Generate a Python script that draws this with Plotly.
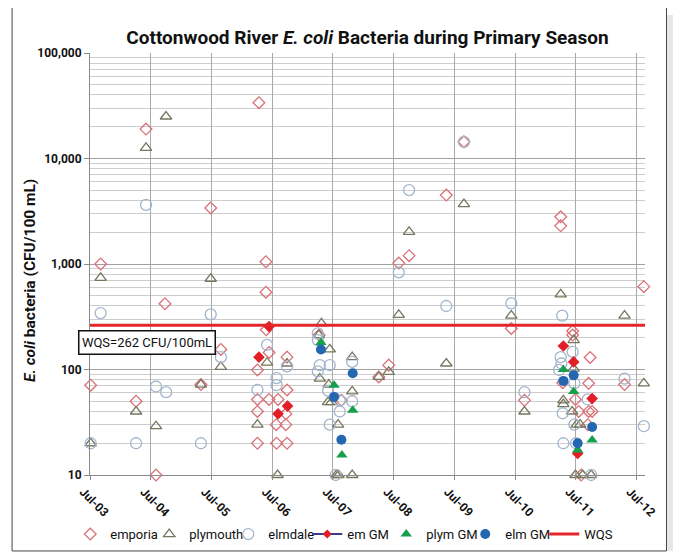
import plotly.graph_objects as go

# ---------------- data ----------------
emporia_dates = ["2003-07-05", "2003-09-03", "2004-04-03", "2004-06-02", "2004-08-01", "2004-09-24",
                 "2005-04-28", "2005-06-26", "2005-08-26",
                 "2006-04-03", "2006-04-03", "2006-04-03", "2006-04-03", "2006-04-12",
                 "2006-05-24", "2006-05-24", "2006-05-26", "2006-06-12", "2006-06-12",
                 "2006-08-05", "2006-07-25", "2006-07-27", "2006-09-21", "2006-09-28", "2006-09-28",
                 "2006-09-21", "2006-09-28",
                 "2007-04-09", "2007-08-21",
                 "2008-04-02", "2008-06-01", "2008-07-31", "2008-10-01",
                 "2009-05-13", "2009-08-27",
                 "2010-06-08", "2010-08-26",
                 "2011-04-01", "2011-04-01", "2011-06-12", "2011-06-12", "2011-09-25", "2011-04-13",
                 "2011-09-16", "2011-06-29", "2011-07-18", "2011-09-16", "2011-10-07", "2011-09-11",
                 "2011-08-02",
                 "2012-04-19", "2012-08-13"]
emporia_vals = [71, 1000, 50, 19000, 10, 420,
                72, 3400, 155,
                99, 52, 40, 20, 33800,
                1050, 540, 238, 145, 52,
                52, 30, 20, 38, 131, 64,
                30, 20,
                212, 51,
                85, 110, 1020, 1200,
                4500, 14400,
                245, 51,
                2800, 2300, 232, 212, 130, 75,
                74, 52, 40, 40, 40, 30,
                10,
                72, 610]

plymouth_dates = ["2003-07-05", "2003-09-03", "2004-04-03", "2004-06-02", "2004-08-01", "2004-09-30",
                  "2005-04-28", "2005-06-26", "2005-08-26",
                  "2006-04-03", "2006-05-31", "2006-08-02", "2006-09-28",
                  "2007-04-23", "2007-04-07", "2007-06-12", "2007-04-13", "2007-06-06", "2007-06-02",
                  "2007-06-22", "2007-08-01", "2007-07-22", "2007-08-04", "2007-10-25", "2007-10-25",
                  "2007-10-25",
                  "2008-04-02", "2008-06-01", "2008-07-31", "2008-10-01",
                  "2009-05-13", "2009-08-27",
                  "2010-06-08", "2010-08-26",
                  "2011-04-01", "2011-06-18", "2011-06-18", "2011-04-17", "2011-04-17", "2011-06-09",
                  "2011-07-06", "2011-07-27", "2011-06-29", "2011-08-11", "2011-10-01",
                  "2012-04-19", "2012-08-13"]
plymouth_vals = [20, 740, 40, 12600, 29, 25000,
                 72, 725, 106,
                 30, 116, 10, 114,
                 274, 212, 155, 82, 72, 49,
                 49, 30, 10, 10, 10, 131,
                 62,
                 85, 95, 329, 2020,
                 114, 3700,
                 324, 40,
                 516, 190, 102, 51, 47, 40,
                 30, 30, 10, 10, 10,
                 324, 74]

elmdale_dates = ["2003-07-05", "2003-09-03", "2004-04-03", "2004-06-02", "2004-08-01", "2004-10-01",
                 "2005-04-28", "2005-06-26", "2005-08-26",
                 "2006-04-03", "2006-05-31", "2006-07-27", "2006-07-27", "2006-09-28",
                 "2007-04-01", "2007-04-01", "2007-04-13", "2007-06-12", "2007-04-01", "2007-06-02",
                 "2007-08-11", "2007-08-11", "2007-06-12", "2007-07-18", "2007-10-25", "2007-10-25",
                 "2008-07-31", "2008-10-01",
                 "2009-05-13", "2009-08-27",
                 "2010-06-08", "2010-08-26",
                 "2011-04-10", "2011-04-01", "2011-06-12", "2011-04-05", "2011-03-22", "2011-06-22",
                 "2011-09-11", "2011-04-13", "2011-06-22", "2011-04-17", "2011-07-02", "2011-10-01",
                 "2012-04-19", "2012-08-13"]
elmdale_vals = [20, 343, 20, 3640, 69, 61,
                20, 333, 131,
                64, 171, 83, 71, 107,
                220, 190, 110, 110, 96, 63,
                51, 40, 30, 10, 118, 50,
                834, 5020,
                400, 14400,
                424, 61,
                324, 131, 147, 114, 99, 74,
                52, 38.5, 30, 20, 20, 10,
                82, 29]

em_gm_dates = ["2006-04-12", "2006-06-12", "2006-08-05", "2006-10-01",
               "2011-04-17", "2011-06-18", "2011-10-07", "2011-07-12"]
em_gm_vals = [131, 255, 38, 45, 167, 118, 53, 16]

plym_gm_dates = ["2007-04-20", "2007-07-08", "2007-08-24", "2007-10-28",
                 "2011-04-17", "2011-06-18", "2011-10-07", "2011-07-12"]
plym_gm_vals = [180, 71, 15.5, 41, 100, 62, 21.5, 17.3]

elm_gm_dates = ["2007-04-20", "2007-07-08", "2007-08-21", "2007-10-28",
                "2011-04-17", "2011-06-18", "2011-10-07", "2011-07-12"]
elm_gm_vals = [155, 55, 21.6, 92, 78, 88, 28.5, 20]

WQS = 262
x_range = ["2003-07-01", "2012-08-20"]
y_tick_vals = [10, 100, 1000, 10000, 100000]
y_tick_text = ["10", "100", "1,000", "10,000", "100,000"]

# ---------------- styles ----------------
FONT = "Roboto, Arial, sans-serif"
C_EMP = "#d97177"
C_PLY = "#77775f"
C_ELM = "#a3b6cd"
C_EMGM = "#e21f26"
C_EMGM_LINE = "#3b3b8f"
C_PLYGM = "#16a04c"
C_ELMGM = "#2467b1"
C_WQS = "#e3262b"

fig = go.Figure()

fig.add_trace(go.Scatter(x=emporia_dates, y=emporia_vals, mode="markers", name="emporia",
                         marker=dict(symbol="diamond-open", size=9, color=C_EMP, line=dict(width=1.3)),
                         cliponaxis=False))
fig.add_trace(go.Scatter(x=plymouth_dates, y=plymouth_vals, mode="markers", name="plymouth",
                         marker=dict(symbol="triangle-up-open", size=10, color=C_PLY, line=dict(width=1.3)),
                         cliponaxis=False))
fig.add_trace(go.Scatter(x=elmdale_dates, y=elmdale_vals, mode="markers", name="elmdale",
                         marker=dict(symbol="circle-open", size=11, color=C_ELM, line=dict(width=1.3)),
                         cliponaxis=False))
# em GM: markers on plot; a data-less twin supplies the line+marker legend entry
fig.add_trace(go.Scatter(x=em_gm_dates, y=em_gm_vals, mode="markers", name="em GM", showlegend=False,
                         marker=dict(symbol="diamond", size=9, color=C_EMGM), cliponaxis=False))
fig.add_trace(go.Scatter(x=[None], y=[None], mode="lines+markers", name="em GM",
                         line=dict(color=C_EMGM_LINE, width=2),
                         marker=dict(symbol="diamond", size=7, color=C_EMGM)))
fig.add_trace(go.Scatter(x=plym_gm_dates, y=plym_gm_vals, mode="markers", name="plym GM",
                         marker=dict(symbol="triangle-up", size=10, color=C_PLYGM), cliponaxis=False))
fig.add_trace(go.Scatter(x=elm_gm_dates, y=elm_gm_vals, mode="markers", name="elm GM",
                         marker=dict(symbol="circle", size=10, color=C_ELMGM), cliponaxis=False))
fig.add_trace(go.Scatter(x=x_range, y=[WQS, WQS], mode="lines", name="WQS",
                         line=dict(color=C_WQS, width=3)))

fig.add_annotation(x=0.1026, y=0.315, xref="paper", yref="paper", xanchor="center", yanchor="middle",
                   text=f"WQS={WQS} CFU/100mL", showarrow=False,
                   font=dict(family=FONT, size=13, color="#111"),
                   bgcolor="white", bordercolor="#111", borderwidth=1.5,
                   width=133, height=20)

fig.add_annotation(x=-0.108, y=0.46, xref="paper", yref="paper", xanchor="center", yanchor="middle",
                   text="<b><i>E. coli</i> bacteria (CFU/100 mL)</b>", showarrow=False, textangle=-90,
                   font=dict(family=FONT, size=15.5, color="#111"))

# outer frame and its soft shadow
fig.add_shape(type="rect", xref="paper", yref="paper", x0=1.0387, x1=1.056, y0=-0.18, y1=1.09,
              line=dict(width=0), fillcolor="#e6e6e6", layer="below")
fig.add_shape(type="rect", xref="paper", yref="paper", x0=-0.1404, x1=1.0387, y0=-0.18, y1=1.109,
              line=dict(color="#444", width=1), fillcolor="white", layer="below")

fig.update_layout(
    width=673, height=548,
    margin=dict(l=82, r=35.5, t=45, b=81, autoexpand=False),
    paper_bgcolor="white", plot_bgcolor="rgba(0,0,0,0)",
    font=dict(family=FONT, color="#111"),
    title=dict(text="<b>Cottonwood River <i>E. coli</i> Bacteria during Primary Season</b>",
               x=0.5, xref="paper", xanchor="center", y=0.947, yanchor="middle",
               font=dict(family=FONT, size=19, color="#111")),
    showlegend=True,
    legend=dict(orientation="h", x=-0.0356, xanchor="left", y=-0.14, yanchor="middle",
                font=dict(family=FONT, size=13, color="#111"), itemwidth=30,
                entrywidth=34, entrywidthmode="pixels",
                bgcolor="rgba(0,0,0,0)"),
    xaxis=dict(type="date", range=x_range, tick0="2003-07-01", dtick="M12", tickformat="%b-%y",
               tickangle=45, ticklabelshift=-7,
               tickfont=dict(family=FONT, size=12, color="#111", weight="bold"),
               showgrid=True, gridcolor="#a9a9a9", gridwidth=1,
               showline=True, linecolor="#8a8a8a", linewidth=1,
               ticks="outside", ticklen=4, tickcolor="#8a8a8a", zeroline=False),
    yaxis=dict(type="log", range=[1, 5], tickvals=y_tick_vals, ticktext=y_tick_text,
               tickfont=dict(family=FONT, size=12, color="#111", weight="bold"),
               showgrid=True, gridcolor="#a0a0a0", gridwidth=1,
               minor=dict(showgrid=True, gridcolor="#cdcdcd", gridwidth=1, dtick="D1"),
               showline=True, linecolor="#8a8a8a", linewidth=1,
               ticks="outside", ticklen=5, tickcolor="#8a8a8a", zeroline=False),
)

fig.write_html("out.html")
